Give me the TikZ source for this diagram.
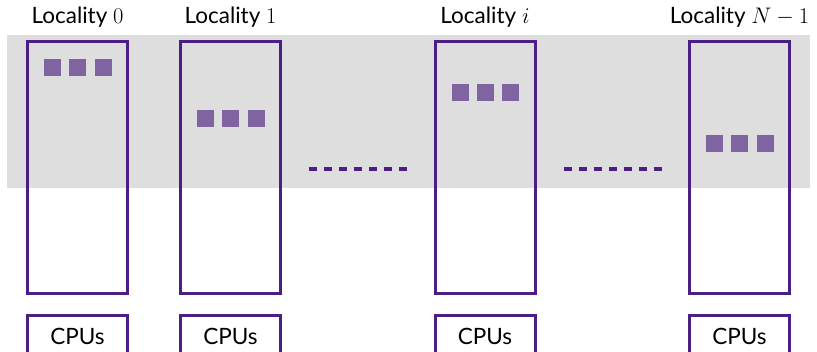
\RequirePackage{fix-cm}
\documentclass[tikz,border=0pt]{standalone}
\usepackage{amsmath}
\usepackage{fontspec}
\setmainfont{Lato}
\usepackage{tikz}
\usetikzlibrary{positioning}

\definecolor{locline}{HTML}{4B1E84}
\definecolor{locfill}{HTML}{8064A2}
\definecolor{band}{HTML}{DEDEDE}

\tikzset{
    locbox/.style={draw=locline,line width=3pt,minimum width=100pt,minimum height=252pt,inner sep=0pt},
    cpubox/.style={draw=locline,line width=3pt,minimum width=100pt,minimum height=42pt,inner sep=0pt,font=\fontsize{22.5}{26}\selectfont},
    loclabel/.style={font=\fontsize{22.5}{26}\selectfont,inner sep=0pt},
    item/.style={fill=locfill,minimum size=17pt,inner sep=0pt},
    dots/.style={locline,line width=4pt,dash pattern=on 8pt off 7pt}
}

\begin{document}
\begin{tikzpicture}[x=1pt,y=-1pt]
    \useasboundingbox (0,0) rectangle (817,352);
    % shared band
    \fill[band] (7,35) rectangle (810,188);

    % localities
    \node[locbox] (l0) at (77.5,167.5) {};
    \node[locbox] (l1) at (230.5,167.5) {};
    \node[locbox] (li) at (485,167.5) {};
    \node[locbox] (ln) at (739.5,167.5) {};

    \node[loclabel] (t0) at (77.5,17) {Locality $0$};
    \node[loclabel] (t1) at (230.5,17) {Locality $1$};
    \node[loclabel] (ti) at (485,17) {Locality $i$};
    \node[loclabel] (tn) at (739.5,17) {Locality $N-1$};

    % items in each locality
    \foreach \b/\y in {l0/67.5,l1/118.5,li/92.5,ln/143.5} {
        \node[item] (\b a) at ([xshift=-25pt]\b.center |- 0,\y) {};
        \node[item,right=8pt of \b a] (\b b) {};
        \node[item,right=8pt of \b b] (\b c) {};
    }

    % cpus
    \foreach \b in {l0,l1,li,ln}
        \node[cpubox,below=19pt of \b] (c\b) {CPUs};

    % gaps
    \coordinate (g1) at (357.5,169);
    \coordinate (g2) at (612.5,169);
    \draw[dots] ([xshift=-49pt]g1) -- ([xshift=49pt]g1);
    \draw[dots] ([xshift=-49pt]g2) -- ([xshift=49pt]g2);
\end{tikzpicture}
\end{document}
